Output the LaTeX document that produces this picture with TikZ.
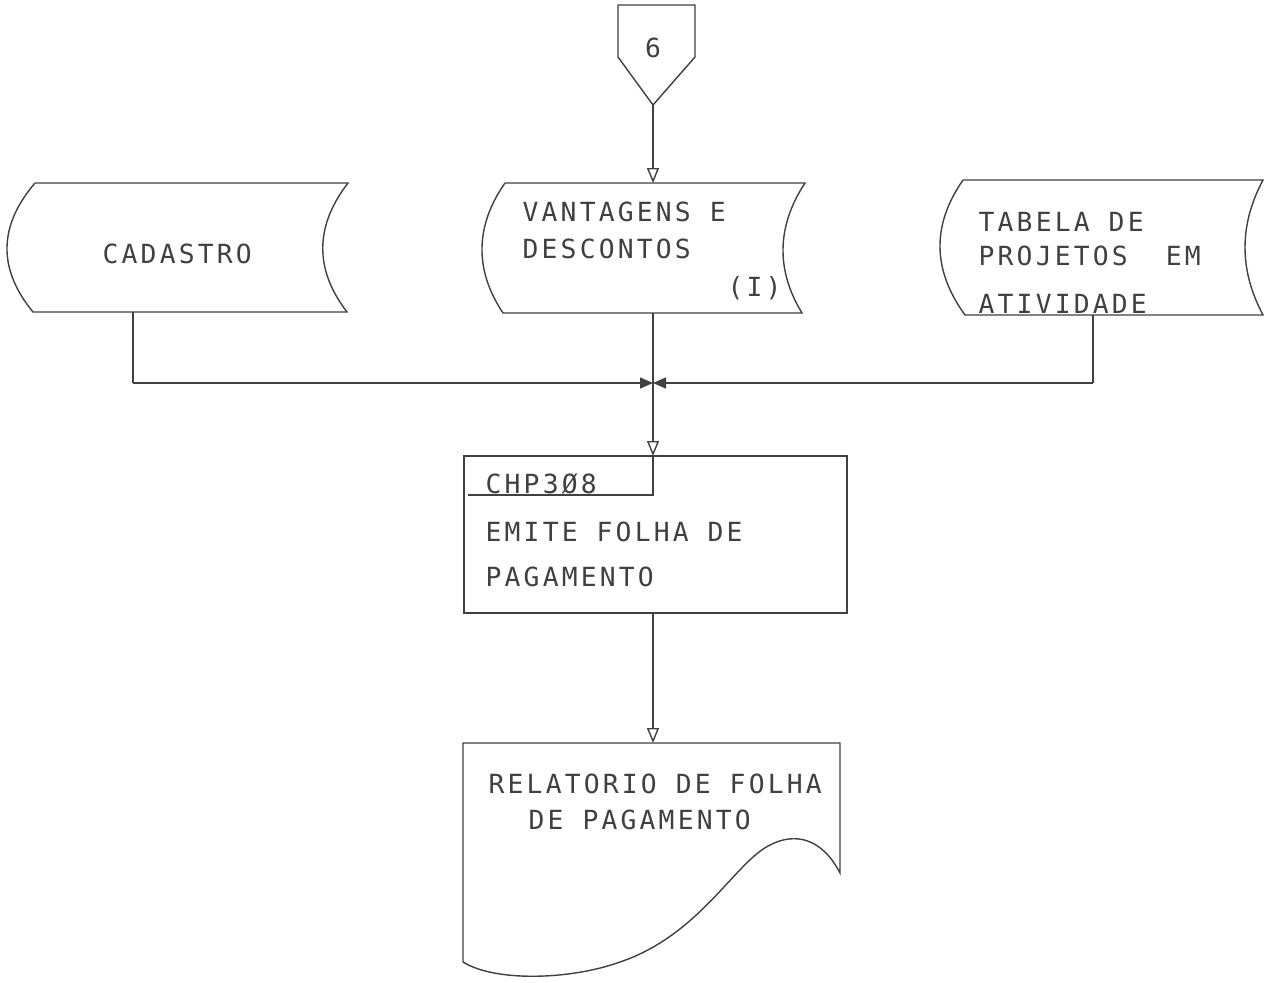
\documentclass[tikz,border=0pt]{standalone}
\usepackage{fontspec}
\newfontfamily\plotfont[LetterSpace=12]{DejaVu Sans Mono}
\usetikzlibrary{arrows.meta}

\begin{document}
\begin{tikzpicture}[x=0.02cm,y=-0.02cm,line width=0.8pt,color=black!75,
    txt/.style={anchor=base west,inner sep=0pt,font=\plotfont\fontsize{15pt}{17pt}\selectfont},
    flow/.style={-{Triangle[open,length=3mm,width=2.4mm]}},
    meet/.style={-{Triangle[length=2.6mm,width=2.2mm]}}]
    \useasboundingbox (0,0) rectangle (1274,983);

    % off-page connector
    \coordinate (C6) at (653,105);
    \draw (618,5) -- (695,5) -- (695,57) -- (C6) -- (618,57) -- cycle;
    \node[txt,anchor=center] (six) at (653,48) {6};

    % stored data
    \coordinate (CADs) at (133,312);
    \coordinate (VANn) at (653,183);
    \coordinate (VANs) at (653,313);
    \coordinate (TABs) at (1093,315);
    \draw (35,183) -- (348,183) .. controls (314.7,226.3) and (314.3,269.3) .. (347,312)
          -- (33,312) .. controls (-2.3,269) and (-1.7,226) .. (35,183);
    \draw (505,183) -- (805,183) .. controls (776.7,226) and (775.7,270) .. (802,313)
          -- (503,313) .. controls (474.3,270) and (475,226) .. (505,183);
    \draw (963,180) -- (1263,180) .. controls (1239,225) and (1239,270) .. (1263,315)
          -- (965,315) .. controls (932.3,270) and (931.7,225) .. (963,180);
    \node[txt] (cad) at (102,263.5) {CADASTRO};
    \node[txt] (van1) at (522,221.5) {VANTAGENS E};
    \node[txt] (van2) at (522,258.5) {DESCONTOS};
    \node[txt] (van3) at (727,296.5) {(I)};
    \node[txt] (tab1) at (978,231.5) {TABELA DE};
    \node[txt] (tab2) at (978,265.5) {PROJETOS\ \ EM};
    \node[txt] (tab3) at (978,313) {ATIVIDADE};

    % junction
    \coordinate (CADj) at (133,383);
    \coordinate (TABj) at (1093,383);
    \coordinate (J) at (653,383);
    \draw (CADs) -- (CADj);
    \draw (TABs) -- (TABj);
    \draw (VANs) -- (J);
    \draw[meet] (CADj) -- (J);
    \draw[meet] (TABj) -- (J);

    % process
    \coordinate (PRn) at (653,456);
    \coordinate (PRs) at (653,613);
    \coordinate (PRk) at (653,495);
    \draw (464,456) rectangle (847,613);
    \draw (PRn) -- (PRk) -- (468,495);
    \node[txt] (chp) at (485,493.5) {CHP3Ø8};
    \node[txt] (emi1) at (485,541.5) {EMITE FOLHA DE};
    \node[txt] (emi2) at (485,586.5) {PAGAMENTO};

    % document
    \coordinate (DOCn) at (653,743);
    \draw (463,962) -- (463,743) -- (840,743) -- (840,873)
        .. controls (822,838) and (795,832) .. (770,845)
        .. controls (735,862) and (700,935) .. (620,962)
        .. controls (570,980) and (495,982) .. (463,962);
    \node[txt] (rel1) at (488,793.5) {RELATORIO DE FOLHA};
    \node[txt] (rel2) at (528,829.5) {DE PAGAMENTO};

    \draw[flow] (C6) -- (VANn);
    \draw[flow] (J) -- (PRn);
    \draw[flow] (PRs) -- (DOCn);
\end{tikzpicture}
\end{document}
